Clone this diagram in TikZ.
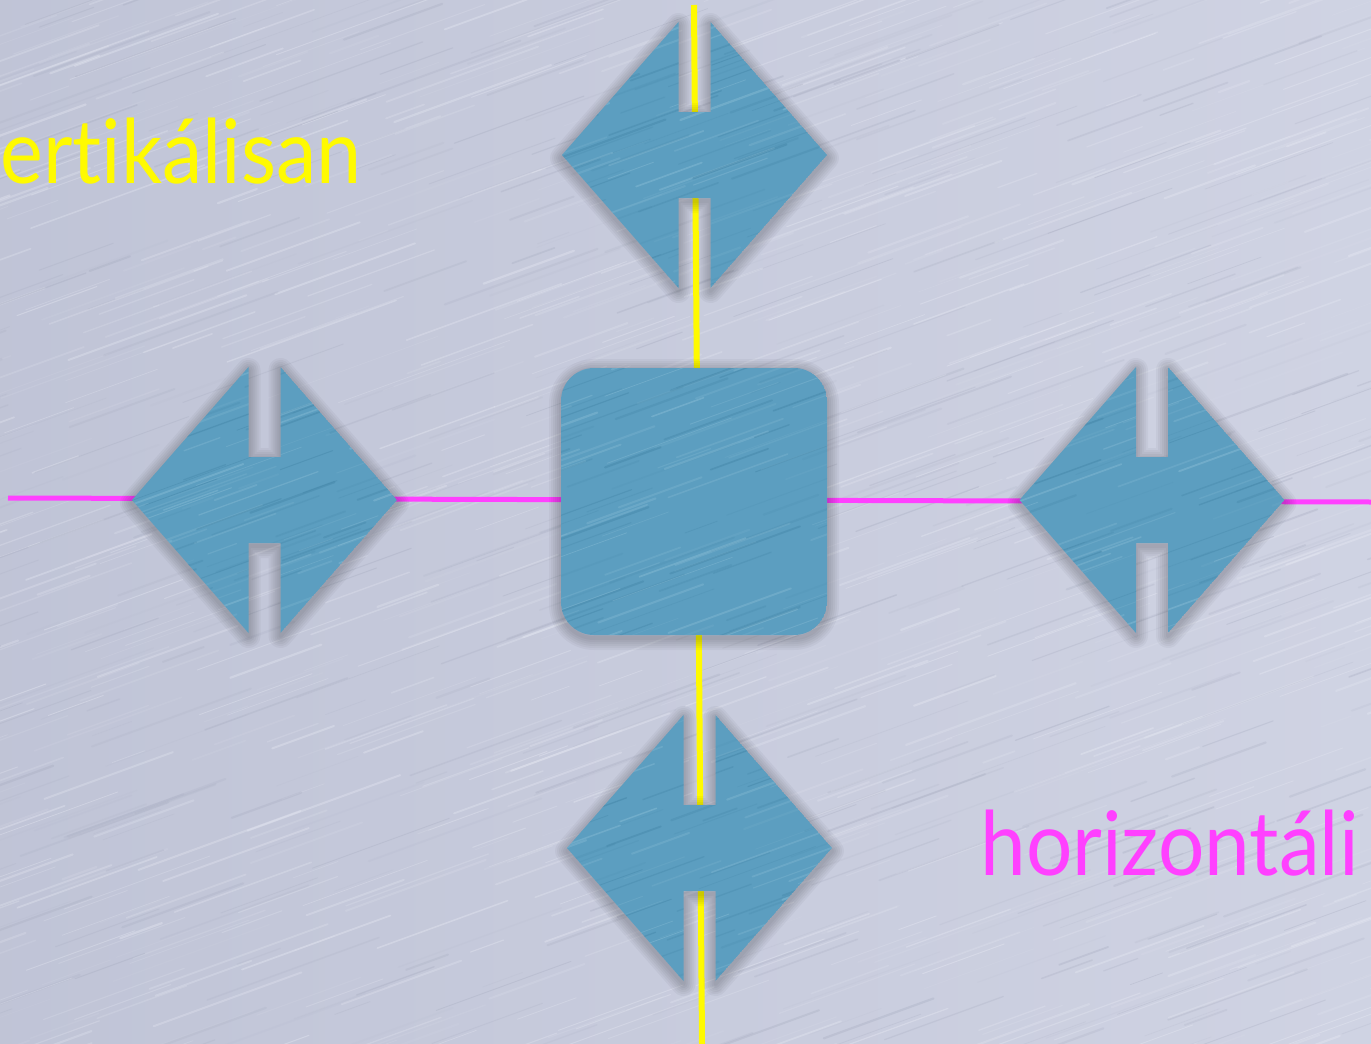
\documentclass[tikz,border=0pt]{standalone}
\usepackage{graphicx}
\usepackage{fontspec}
\setmainfont[Ligatures=NoCommon]{Lato}
\definecolor{bgbase}{RGB}{200,204,222}
\definecolor{bglight}{RGB}{236,238,247}
\definecolor{bgdark}{RGB}{165,170,190}
\definecolor{tile}{RGB}{92,158,192}
\definecolor{tilelight}{RGB}{150,198,220}
\definecolor{tiledark}{RGB}{60,126,160}
\definecolor{vline}{RGB}{255,250,0}
\definecolor{hline}{RGB}{255,64,255}
\tikzset{
  guideV/.style={draw=vline, line width=3pt},
  guideH/.style={draw=hline, line width=2.5pt},
  labelV/.style={text=vline, font=\fontsize{44.5}{50}\selectfont, inner sep=0pt},
  labelH/.style={text=hline, font=\fontsize{44.5}{50}\selectfont, inner sep=0pt},
}
\newcommand\dshape{(-132.5,0) -- (-16,-133) -- (-16,-43) -- (16,-43) -- (16,-133) -- (132.5,0) -- (16,133) -- (16,43) -- (-16,43) -- (-16,133) -- cycle}
\newcommand\sqshape{[rounded corners=16.5pt] (-133,-133.5) rectangle (133,133.5)}
\newcommand\tiletexture{%
  \foreach \i in {1,...,220}{%
    \pgfmathsetmacro\sx{rnd*460-260}%
    \pgfmathsetmacro\sy{rnd*420-170}%
    \pgfmathsetmacro\sl{rnd*110+30}%
    \pgfmathsetmacro\so{rnd*0.3+0.08}%
    \pgfmathsetmacro\sw{rnd*0.8+0.3}%
    \pgfmathtruncatemacro\sc{rnd*2}%
    \ifnum\sc=0
      \draw[tilelight, opacity=\so, line width=\sw pt, line cap=round] (\sx,\sy) -- ++(-20:\sl);
    \else
      \draw[tiledark, opacity=\so, line width=\sw pt, line cap=round] (\sx,\sy) -- ++(-20:\sl);
    \fi
  }}
\newcommand\softshadow[1]{%
  \begin{scope}[shift={(0,3)}]
    \foreach \w in {2,4,6,8,10,12}{%
      \draw[black, opacity=0.035, line width=\w pt, line join=round] #1;
    }
  \end{scope}}
\newcommand\tileat[2]{%
  \begin{scope}[shift={(#1)}]
    \softshadow{#2}
    \begin{scope}
      \clip #2;
      \fill[tile] #2;
      \tiletexture
    \end{scope}
  \end{scope}}
\begin{document}
\begin{tikzpicture}[x=0.5pt, y=-0.5pt]
\pgfmathsetseed{4242}
\useasboundingbox (0,0) rectangle (1371,1044);
\begin{scope}
\clip (0,0) rectangle (1371,1044);
% background brushed metal
\fill[bgbase] (0,0) rectangle (1371,1044);
\shade[left color=bgdark, right color=bglight, opacity=0.22] (0,0) rectangle (1371,1044);
\foreach \i in {1,...,1800}{%
  \pgfmathsetmacro\sx{rnd*1700-250}%
  \pgfmathsetmacro\sy{rnd*1350-50}%
  \pgfmathsetmacro\sl{rnd*160+30}%
  \pgfmathsetmacro\so{rnd*0.28+0.06}%
  \pgfmathsetmacro\sw{rnd*0.8+0.3}%
  \pgfmathtruncatemacro\sc{rnd*3}%
  \ifnum\sc=0
    \draw[bgdark, opacity=\so, line width=\sw pt, line cap=round] (\sx,\sy) -- ++(-20:\sl);
  \else
    \draw[bglight, opacity=\so, line width=\sw pt, line cap=round] (\sx,\sy) -- ++(-20:\sl);
  \fi
}
% named points
\coordinate (vT) at (694,5);
\coordinate (vB) at (702,1044);
\coordinate (hL) at (8,498);
\coordinate (hR) at (1371,502);
\coordinate (ctop) at (694.5,155);
\coordinate (cbottom) at (699.5,848);
\coordinate (cleft) at (264.5,500);
\coordinate (cright) at (1152,500);
\coordinate (ccenter) at (694,501.5);
% guide lines
\draw[guideV] (vT) -- (vB);
\draw[guideH] (hL) -- (hR);
% tiles
\tileat{ctop}{\dshape}
\tileat{cbottom}{\dshape}
\tileat{cleft}{\dshape}
\tileat{cright}{\dshape}
\tileat{ccenter}{\sqshape}
% labels
\node[labelV, anchor=base west] (tV) at (0,183) {\scalebox{0.91}[1]{ertikálisan}};
\node[labelH, anchor=base west] (tH) at (980,875) {\scalebox{0.92}[1]{horizontáli}};
\end{scope}
\end{tikzpicture}
\end{document}
